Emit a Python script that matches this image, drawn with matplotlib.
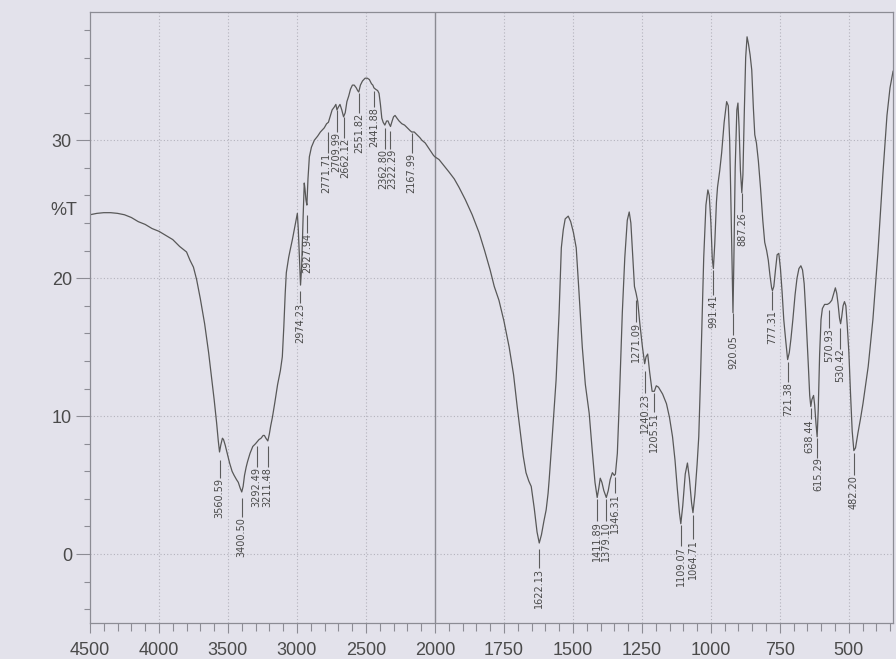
import numpy as np
import matplotlib.pyplot as plt

plt.switch_backend("agg")

# FTIR transmission spectrum, wavenumber (1/cm) vs %T
wavenumber = [
    4500, 4450, 4400, 4350, 4300, 4250, 4200, 4150, 4100, 4050, 4000, 3950, 3900, 3850,
    3800, 3775, 3750, 3727, 3700, 3669, 3640, 3619, 3600, 3582, 3570, 3561, 3552, 3540,
    3532, 3520, 3505, 3488, 3470, 3455, 3438, 3425, 3412, 3400, 3390, 3380, 3368, 3358,
    3340, 3320, 3300, 3292, 3275, 3260, 3245, 3236, 3225, 3211, 3200, 3190, 3178, 3160,
    3140, 3120, 3106, 3095, 3085, 3077, 3060, 3050, 3033, 3020, 3010, 2997, 2990, 2982,
    2974, 2966, 2955, 2947, 2942, 2935, 2928, 2920, 2910, 2895, 2874, 2850, 2830, 2802,
    2785, 2772, 2760, 2745, 2730, 2718, 2710, 2700, 2688, 2675, 2662, 2650, 2638, 2625,
    2612, 2598, 2585, 2570, 2560, 2552, 2540, 2525, 2506, 2490, 2475, 2460, 2450, 2442,
    2430, 2415, 2405, 2395, 2385, 2375, 2363, 2350, 2340, 2332, 2322, 2310, 2300, 2289,
    2275, 2260, 2240, 2220, 2200, 2180, 2168, 2150, 2130, 2110, 2094, 2070, 2050, 2030,
    2010, 2000, 1985, 1965, 1949, 1930, 1913, 1890, 1865, 1840, 1820, 1800, 1785, 1768,
    1750, 1731, 1715, 1702, 1690, 1680, 1670, 1660, 1651, 1640, 1630, 1622, 1614, 1605,
    1597, 1590, 1586, 1575, 1561, 1550, 1542, 1535, 1528, 1517, 1508, 1498, 1488, 1478,
    1466, 1455, 1441, 1430, 1420, 1412, 1406, 1401, 1395, 1388, 1379, 1372, 1365, 1357,
    1350, 1346, 1339, 1332, 1321, 1312, 1303, 1296, 1290, 1283, 1277, 1271, 1265, 1258,
    1248, 1240, 1235, 1229, 1222, 1213, 1205, 1198, 1190, 1175, 1161, 1150, 1139, 1130,
    1122, 1114, 1109, 1102, 1093, 1085, 1078, 1070, 1065, 1058, 1050, 1044, 1038, 1032,
    1026, 1018, 1011, 1006, 1000, 995, 991, 986, 980, 976, 968, 961, 952, 943,
    937, 932, 927, 923, 920, 917, 912, 906, 902, 898, 893, 888, 884, 879,
    874, 869, 864, 858, 852, 846, 841, 835, 828, 820, 812, 805, 798, 792,
    786, 780, 777, 772, 766, 760, 754, 748, 742, 736, 729, 722, 716, 710,
    703, 695, 688, 681, 674, 668, 662, 657, 652, 647, 642, 638, 634, 628,
    624, 619, 615, 611, 606, 601, 596, 588, 578, 570, 562, 555, 549, 544,
    539, 534, 530, 526, 521, 516, 511, 506, 500, 494, 488, 482, 476, 467,
    458, 449, 430, 413, 395, 377, 362, 351, 340,
]
transmittance = [
    24.6, 24.7, 24.75, 24.75, 24.7, 24.6, 24.4, 24.1, 23.9, 23.6, 23.4, 23.1, 22.8, 22.3,
    21.9, 21.3, 20.8, 19.9, 18.5, 16.7, 14.6, 12.8, 11.2, 9.5, 8.2, 7.4, 7.9, 8.4,
    8.3, 7.9, 7.3, 6.6, 6.0, 5.7, 5.4, 5.2, 4.8, 4.5, 4.9, 5.7, 6.3, 6.7,
    7.3, 7.8, 8.0, 8.1, 8.3, 8.4, 8.6, 8.6, 8.4, 8.2, 8.7, 9.3, 9.9, 11.0,
    12.3, 13.3, 14.3, 16.5, 18.9, 20.4, 21.5, 22.0, 22.8, 23.5, 24.0, 24.7, 23.5, 21.5,
    19.5, 20.8, 24.5, 26.9, 26.5, 25.7, 25.3, 27.2, 28.8, 29.5, 30.0, 30.3, 30.6, 30.9,
    31.2, 31.3, 31.7, 32.2, 32.4, 32.6, 32.2, 32.4, 32.6, 32.2, 31.7, 32.0, 32.8, 33.2,
    33.7, 34.0, 34.0, 33.8, 33.6, 33.5, 34.0, 34.3, 34.5, 34.5, 34.4, 34.1, 34.0, 33.8,
    33.7, 33.6, 33.4, 32.6, 31.6, 31.3, 31.1, 31.4, 31.4, 31.2, 31.0, 31.4, 31.7, 31.8,
    31.6, 31.4, 31.2, 31.1, 30.9, 30.7, 30.6, 30.6, 30.4, 30.2, 30.0, 29.8, 29.5, 29.2,
    28.9, 28.8, 28.6, 28.1, 27.7, 27.2, 26.6, 25.7, 24.6, 23.3, 22.0, 20.6, 19.4, 18.4,
    16.9, 15.0, 13.0, 10.7, 8.7, 7.1, 5.9, 5.3, 4.9, 3.3, 1.6, 0.8, 1.4, 2.4,
    3.2, 4.4, 5.4, 8.5, 12.6, 17.5, 22.2, 23.5, 24.3, 24.5, 24.1, 23.3, 22.2, 19.0,
    15.0, 12.3, 10.2, 7.5, 5.2, 4.1, 4.8, 5.5, 5.2, 4.6, 4.1, 4.6, 5.4, 5.9,
    5.7, 5.8, 7.3, 11.0, 17.5, 21.5, 24.2, 24.8, 24.0, 21.5, 19.4, 18.9, 18.3, 16.8,
    15.0, 13.8, 14.3, 14.5, 13.2, 11.8, 11.8, 12.2, 12.1, 11.6, 10.9, 9.9, 8.5, 6.8,
    4.8, 3.0, 2.2, 3.5, 5.8, 6.6, 5.5, 3.7, 3.0, 4.3, 6.5, 8.5, 12.5, 17.0,
    21.5, 25.3, 26.4, 26.0, 24.0, 21.4, 20.7, 22.5, 25.5, 26.6, 27.8, 29.1, 31.3, 32.8,
    32.5, 30.0, 25.0, 20.5, 17.5, 21.0, 28.0, 32.2, 32.7, 31.0, 27.8, 26.2, 27.5, 32.0,
    36.0, 37.5, 37.0, 36.2, 35.1, 32.3, 30.4, 29.8, 28.5, 26.5, 24.2, 22.6, 22.0, 21.3,
    20.2, 19.3, 19.1, 19.4, 20.6, 21.7, 21.8, 20.7, 19.0, 17.0, 15.5, 14.1, 14.6, 15.6,
    17.0, 18.8, 20.0, 20.7, 20.9, 20.6, 19.6, 17.8, 15.8, 13.7, 11.5, 10.7, 11.2, 11.5,
    10.8, 9.4, 8.5, 10.5, 14.5, 17.0, 17.8, 18.1, 18.1, 18.2, 18.4, 18.9, 19.3, 18.9,
    18.1, 17.1, 16.7, 17.2, 18.0, 18.3, 18.0, 16.6, 14.6, 11.6, 8.9, 7.5, 7.7, 8.8,
    9.8, 10.9, 13.6, 17.0, 21.8, 27.5, 31.8, 33.8, 35.0,
]

# picked peaks
peaks = [
    3560.59, 3400.50, 3292.49, 3211.48, 2974.23, 2927.94, 2771.71, 2709.99, 2662.12,
    2551.82, 2441.88, 2362.80, 2322.29, 2167.99, 1622.13, 1411.89, 1379.10, 1346.31,
    1271.09, 1240.23, 1205.51, 1109.07, 1064.71, 991.41, 920.05, 887.26, 777.31,
    721.38, 638.44, 615.29, 570.93, 530.42, 482.20,
]
# where each peak's leader starts and where its label starts (in %T)
lead_top = [
    6.8, 4.1, 7.8, 7.8, 19.1, 24.6, 30.6, 32.2, 31.7,
    33.4, 33.6, 30.9, 30.7, 30.5, 0.4, 4.0, 4.0, 5.6,
    18.4, 13.3, 11.7, 2.1, 2.8, 20.6, 17.5, 26.2, 19.1,
    13.9, 10.6, 8.4, 17.7, 16.4, 7.3,
]
label_top = [
    5.5, 2.7, 6.3, 6.3, 18.2, 23.3, 29.1, 30.6, 30.2,
    32.0, 32.4, 29.4, 29.4, 29.1, -1.0, 2.4, 2.4, 4.4,
    16.8, 11.7, 10.3, 0.6, 1.1, 18.8, 15.9, 24.8, 17.7,
    12.5, 9.8, 7.0, 16.4, 14.9, 5.7,
]
# sideways nudge (points) for labels that sit very close together
label_shift = [0] * len(peaks)
label_shift[peaks.index(2771.71)] = -1.4
label_shift[peaks.index(2709.99)] = -0.6
label_shift[peaks.index(2662.12)] = 0.9
label_shift[peaks.index(2362.80)] = -1.2
label_shift[peaks.index(2322.29)] = 1.2
label_shift[peaks.index(638.44)] = -0.6
label_shift[peaks.index(615.29)] = 0.6

x_major = [4500, 4000, 3500, 3000, 2500, 2000, 1750, 1500, 1250, 1000, 750, 500]
x_minor = list(range(4500, 2000, -100)) + list(range(2000, 340, -50))
y_major = [0, 10, 20, 30]
y_minor = list(range(-4, 40, 2))


# the region above 2000 1/cm is drawn at half scale
def fwd(x):
    x = np.asarray(x, dtype=float)
    return np.where(x > 2000, 2000 + (x - 2000) / 2.0, x)


def inv(u):
    u = np.asarray(u, dtype=float)
    return np.where(u > 2000, 2000 + (u - 2000) * 2.0, u)


bg = "#e3e2eb"
ink = "#4a4a4a"
frame = "#8c8c94"

fig = plt.figure(figsize=(8.96, 6.59), dpi=100, facecolor=bg)
ax = fig.add_axes([0.1004, 0.0546, 0.8963, 0.9272], facecolor=bg)
ax.set_xscale("function", functions=(fwd, inv))
ax.set_xlim(4500, 340)
ax.set_ylim(-5, 39.3)

for s in ax.spines.values():
    s.set_color(frame)
    s.set_linewidth(0.9)

ax.set_xticks(x_major)
ax.set_xticks(x_minor, minor=True)
ax.set_yticks(y_major)
ax.set_yticks(y_minor, minor=True)

tick_font = dict(family=["Liberation Sans"], size=13, color=ink)
ax.set_xticklabels([str(v) for v in x_major], **tick_font)
ax.set_yticklabels([str(v) for v in y_major], **tick_font)
ax.tick_params(axis="x", which="major", length=7, width=0.8, color=frame, pad=7)
ax.tick_params(axis="x", which="minor", length=6, width=0.8, color=frame)
ax.tick_params(axis="y", which="major", length=10, width=0.8, color=frame, pad=3)
ax.tick_params(axis="y", which="minor", length=4, width=0.8, color=frame)

# dotted grid plus the solid scale-change line at 2000
for v in x_major:
    if v in (4500, 2000):
        continue
    ax.axvline(v, color="#b4b3bd", lw=0.8, ls=(0, (1, 2)), zorder=0)
for v in y_major:
    ax.axhline(v, color="#b4b3bd", lw=0.8, ls=(0, (1, 2)), zorder=0)
ax.axvline(2000, color="#8a8a92", lw=1.0, zorder=0)

ax.plot(wavenumber, transmittance, color="#585858", lw=0.9)

ax.vlines(peaks, label_top, lead_top, color="#5c5c5c", lw=0.8)
for p, yt, dx in zip(peaks, label_top, label_shift):
    ax.annotate("%.2f" % p, xy=(p, yt), xytext=(dx, 0), textcoords="offset points",
                rotation=90, ha="center", va="top",
                family="DejaVu Sans", fontsize=7, color=ink)

ax.text(-0.033, 24.9, "%T", transform=ax.get_yaxis_transform(),
        ha="center", va="center", **tick_font)

fig.savefig("out.png", dpi=100, facecolor=bg)
